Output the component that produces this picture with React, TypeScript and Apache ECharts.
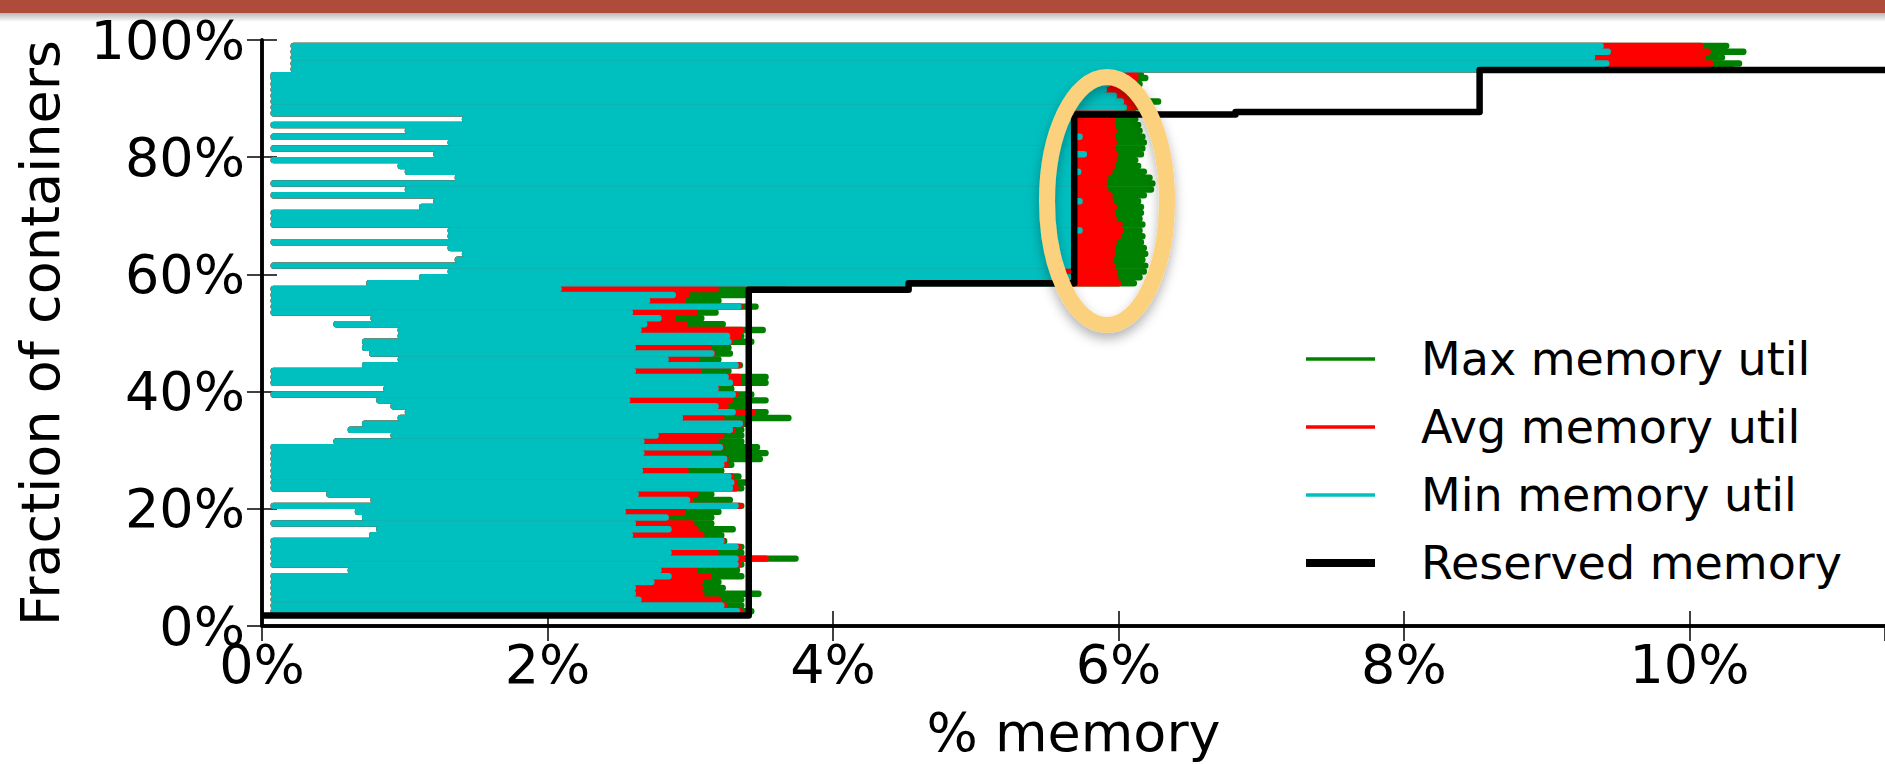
import React, { useEffect, useRef } from "react";
import * as echarts from "echarts";

const FONT = '"DejaVu Sans", "Liberation Sans", sans-serif';

// Row centres (fraction of containers, %) — containers sorted by reserved memory
const rowY = [
  2.5, 3.5, 4.5, 5.5, 6.5, 7.5, 8.5, 9.5, 10.5, 11.5,
  12.5, 13.5, 14.5, 15.5, 16.5, 17.5, 18.5, 19.5, 20.5, 21.5,
  22.5, 23.5, 24.5, 25.5, 26.5, 27.5, 28.5, 29.5, 30.5, 31.5,
  32.5, 33.5, 34.5, 35.5, 36.5, 37.5, 38.5, 39.5, 40.5, 41.5,
  42.5, 43.5, 44.5, 45.5, 46.5, 47.5, 48.5, 49.5, 50.5, 51.5,
  52.5, 53.5, 54.5, 55.5, 56.5, 57.5,
  58.5, 59.5, 60.5, 61.5, 62.5, 63.5, 64.5, 65.5, 66.5, 67.5,
  68.5, 69.5, 70.5, 71.5, 72.5, 73.5, 74.5, 75.5, 76.5, 77.5,
  78.5, 79.5, 80.5, 81.5, 82.5, 83.5, 84.5, 85.5, 86.5, 87.5,
  88.5, 89.5, 90.5, 91.5, 92.5, 93.5,
  94.0,
  95, 96, 97, 98, 99,
];

// Left end of each row's drawn segment (% memory)
const rowStart = [
  0.06, 0.06, 0.06, 0.06, 0.06, 0.06, 0.06, 0.6, 0.06, 0.06,
  0.06, 0.06, 0.06, 0.75, 0.8, 0.06, 0.7, 0.65, 0.06, 0.76,
  0.45, 0.06, 0.06, 0.06, 0.06, 0.06, 0.06, 0.06, 0.06, 0.5,
  0.9, 0.6, 0.7, 0.95, 1.0, 0.9, 0.8, 0.06, 0.85, 0.06,
  0.06, 0.06, 0.7, 0.95, 0.75, 0.7, 0.7, 0.95, 0.95, 0.5,
  0.76, 0.06, 0.06, 0.06, 0.06, 0.06,
  0.73, 1.1, 1.3, 0.06, 1.35, 1.4, 1.3, 0.06, 1.3, 1.3,
  0.06, 0.06, 0.06, 1.1, 1.2, 0.06, 1.0, 0.06, 1.35, 1.0,
  0.95, 0.06, 1.2, 0.06, 1.3, 0.06, 1.0, 0.06, 1.4, 0.06,
  0.06, 0.06, 0.06, 0.06, 0.06, 0.06,
  0.06,
  0.2, 0.2, 0.2, 0.2, 0.2,
];

// Min memory util (% memory)
const rowMin = [
  3.35, 3.24, 2.66, 2.62, 2.62, 2.75, 2.87, 2.8, 3.34, 3.34,
  2.87, 3.34, 3.24, 2.6, 2.87, 2.62, 2.85, 2.55, 3.34, 3.0,
  2.64, 3.3, 3.31, 3.29, 2.67, 3.24, 3.26, 2.68, 3.23, 2.68,
  2.78, 3.3, 3.37, 2.95, 3.32, 3.2, 2.58, 3.32, 3.2, 3.3,
  3.27, 2.62, 3.34, 2.85, 3.17, 2.62, 3.29, 3.28, 2.66, 2.7,
  2.8, 2.6, 3.36, 2.72, 2.9, 2.1,
  5.68, 5.68, 5.6, 5.68, 5.68, 5.68, 5.68, 5.68, 5.68, 5.75,
  5.68, 5.68, 5.68, 5.68, 5.75, 5.68, 5.68, 5.68, 5.68, 5.74,
  5.68, 5.68, 5.78, 5.68, 5.68, 5.75, 5.68, 5.68, 5.68, 5.68,
  6.06, 6.04, 5.99, 5.92, 5.94, 6.06,
  6.05,
  9.42, 9.44, 9.34, 9.45, 9.4,
];

// Avg memory util (% memory)
const rowAvg = [
  3.37, 3.26, 3.22, 3.1, 3.09, 3.09, 3.15, 3.05, 3.36, 3.55,
  3.2, 3.36, 3.25, 3.1, 3.06, 3.03, 2.86, 2.97, 3.37, 3.02,
  3.06, 3.34, 3.33, 3.31, 2.99, 3.27, 3.27, 3.15, 3.24, 3.2,
  3.24, 3.32, 3.38, 3.24, 3.46, 3.27, 3.3, 3.34, 3.21, 3.36,
  3.36, 3.08, 3.36, 3.07, 3.18, 3.15, 3.3, 3.36, 3.38, 2.98,
  2.9, 3.05, 3.37, 2.97, 3.0, 3.2,
  6.02, 6.0, 5.99, 5.98, 5.97, 5.98, 5.98, 5.99, 6.02, 6.04,
  6.03, 5.99, 5.98, 5.99, 5.97, 5.96, 5.93, 5.92, 5.93, 5.96,
  5.98, 5.99, 6.0, 5.98, 5.99, 5.98, 5.99, 5.98, 5.98, 5.99,
  6.13, 6.11, 6.07, 6.03, 6.05, 6.14,
  6.14,
  10.14, 10.17, 10.11, 10.15, 10.1,
];

// Max memory util (% memory)
const rowMax = [
  3.45, 3.38, 3.38, 3.5, 3.25, 3.22, 3.38, 3.35, 3.38, 3.76,
  3.38, 3.38, 3.26, 3.24, 3.32, 3.17, 3.17, 3.22, 3.38, 3.3,
  3.17, 3.38, 3.42, 3.36, 3.24, 3.31, 3.51, 3.55, 3.49, 3.38,
  3.38, 3.38, 3.43, 3.71, 3.55, 3.4, 3.55, 3.45, 3.31, 3.55,
  3.55, 3.29, 3.37, 3.22, 3.3, 3.29, 3.45, 3.38, 3.53, 3.25,
  3.1, 3.2, 3.48, 3.22, 3.4, 3.68,
  6.13, 6.17, 6.2, 6.21, 6.19, 6.21, 6.2, 6.18, 6.19, 6.17,
  6.19, 6.17, 6.18, 6.18, 6.16, 6.2, 6.25, 6.26, 6.24, 6.2,
  6.16, 6.14, 6.18, 6.19, 6.2, 6.19, 6.17, 6.16, 6.14, 6.13,
  6.16, 6.3, 6.13, 6.11, 6.17, 6.21,
  6.18,
  10.32, 10.37, 10.25, 10.4, 10.28,
];

// Reserved memory step curve (x: % memory, y: fraction of containers %)
const reservedX = [0, 3.41, 3.41, 4.53, 4.53, 5.69, 5.69, 6.82, 6.82, 8.53, 8.53, 11.37];
const reservedY = [1.8, 1.8, 57.4, 57.4, 58.5, 58.5, 87.3, 87.3, 87.7, 87.7, 94.9, 94.9];

const X_MAX = 11.37;
const ROW_HALF = 0.5;

const seriesNames = ["Max memory util", "Avg memory util", "Min memory util", "Reserved memory"];
const seriesColors = ["#008000", "#ff0000", "#00bfbf", "#000000"];

function rowSeries(name: string, color: string, ends: number[]) {
  return {
    type: "custom",
    name,
    coordinateSystem: "cartesian2d",
    xAxisIndex: 0,
    yAxisIndex: 0,
    itemStyle: { color },
    encode: { x: [1, 2], y: 0 },
    data: rowY.map((y, i) => [y, rowStart[i], ends[i]]),
    renderItem: (_params: any, api: any) => {
      const y = api.value(0);
      const x0 = api.value(1);
      const x1 = api.value(2);
      const p0 = api.coord([x0, y + ROW_HALF]);
      const p1 = api.coord([x1, y - ROW_HALF]);
      const h = p1[1] - p0[1] + 0.6;
      return {
        type: "rect",
        shape: { x: p0[0], y: p0[1] - 0.3, width: Math.max(0, p1[0] - p0[0]), height: h, r: Math.min(3, h / 2) },
        style: { fill: color },
      };
    },
  };
}

export default function App() {
  const ref = useRef<HTMLDivElement>(null);
  useEffect(() => {
    if (!ref.current) return;
    const chart = echarts.init(ref.current, undefined, { renderer: "svg" });
    const thinIcon = "path://M0 0H69V3.5H0Z";
    const pct = (v: number) => `${v}%`;
    const axisLine = { show: true, lineStyle: { color: "#000", width: 3.5 } };
    const axisTick = { show: true, inside: true, length: 15, lineStyle: { color: "#000", width: 1.5 } };
    chart.setOption({
      animation: false,
      backgroundColor: "#ffffff",
      textStyle: { fontFamily: FONT },
      grid: { left: 262, top: 40, right: -5, bottom: 136, containLabel: false },
      xAxis: [
        {
          type: "value", min: 0, max: X_MAX, interval: 2, position: "bottom",
          axisLine, axisTick, splitLine: { show: false },
          axisLabel: { formatter: pct, fontSize: 54, color: "#000", fontFamily: FONT, margin: 11, showMaxLabel: false },
          name: "% memory", nameLocation: "middle", nameGap: 79,
          nameTextStyle: { fontSize: 54, color: "#000", fontFamily: FONT },
        },
        {
          type: "value", min: 0, max: X_MAX, interval: 2, position: "top",
          axisLine, axisTick, splitLine: { show: false }, axisLabel: { show: false },
        },
      ],
      yAxis: [
        {
          type: "value", min: 0, max: 100, interval: 20, position: "left",
          axisLine, axisTick, splitLine: { show: false },
          axisLabel: { formatter: pct, fontSize: 54, color: "#000", fontFamily: FONT, margin: 17, padding: [0, 0, 8, 0] },
          name: "Fraction of containers", nameLocation: "middle", nameGap: 195,
          nameTextStyle: { fontSize: 54, color: "#000", fontFamily: FONT },
        },
        {
          type: "value", min: 0, max: 100, interval: 20, position: "right",
          axisLine, axisTick, splitLine: { show: false }, axisLabel: { show: false },
        },
      ],
      legend: {
        orient: "vertical", left: 1301, top: 331, itemWidth: 69, itemHeight: 8, itemGap: 22,
        selectedMode: false,
        textStyle: { fontSize: 46, color: "#000", fontFamily: FONT, padding: [0, 0, 0, 41] },
        data: [
          { name: seriesNames[0], icon: thinIcon, itemStyle: { color: seriesColors[0] } },
          { name: seriesNames[1], icon: thinIcon, itemStyle: { color: seriesColors[1] } },
          { name: seriesNames[2], icon: thinIcon, itemStyle: { color: seriesColors[2] } },
          { name: seriesNames[3], icon: "rect", itemStyle: { color: seriesColors[3] } },
        ],
      },
      series: [
        rowSeries(seriesNames[0], seriesColors[0], rowMax),
        rowSeries(seriesNames[1], seriesColors[1], rowAvg),
        rowSeries(seriesNames[2], seriesColors[2], rowMin),
        {
          type: "line", name: seriesNames[3], xAxisIndex: 0, yAxisIndex: 0,
          data: reservedX.map((x, i) => [x, reservedY[i]]),
          showSymbol: false, symbol: "none", z: 10,
          itemStyle: { color: "#000" },
          lineStyle: { color: "#000", width: 6.5, join: "round" },
        },
      ],
      graphic: [
        { type: "rect", shape: { x: 0, y: 0, width: 1885, height: 13 }, style: { fill: "#ae4b3a" }, z: 100 },
        {
          type: "rect", shape: { x: 0, y: 13, width: 1885, height: 9 }, z: 100,
          style: {
            fill: new echarts.graphic.LinearGradient(0, 0, 0, 1, [
              { offset: 0, color: "rgba(0,0,0,0.28)" },
              { offset: 1, color: "rgba(0,0,0,0)" },
            ]),
          },
        },
        {
          type: "ellipse", shape: { cx: 1107, cy: 201, rx: 60, ry: 124 }, z: 100,
          style: {
            fill: "none", stroke: "#fcd17e", lineWidth: 16,
            shadowBlur: 12, shadowColor: "rgba(0,0,0,0.3)", shadowOffsetY: 6,
          },
        },
      ],
    });
    return () => chart.dispose();
  }, []);
  return <div ref={ref} style={{ position: "absolute", left: 0, top: 0, width: 1885, height: 764 }} />;
}
